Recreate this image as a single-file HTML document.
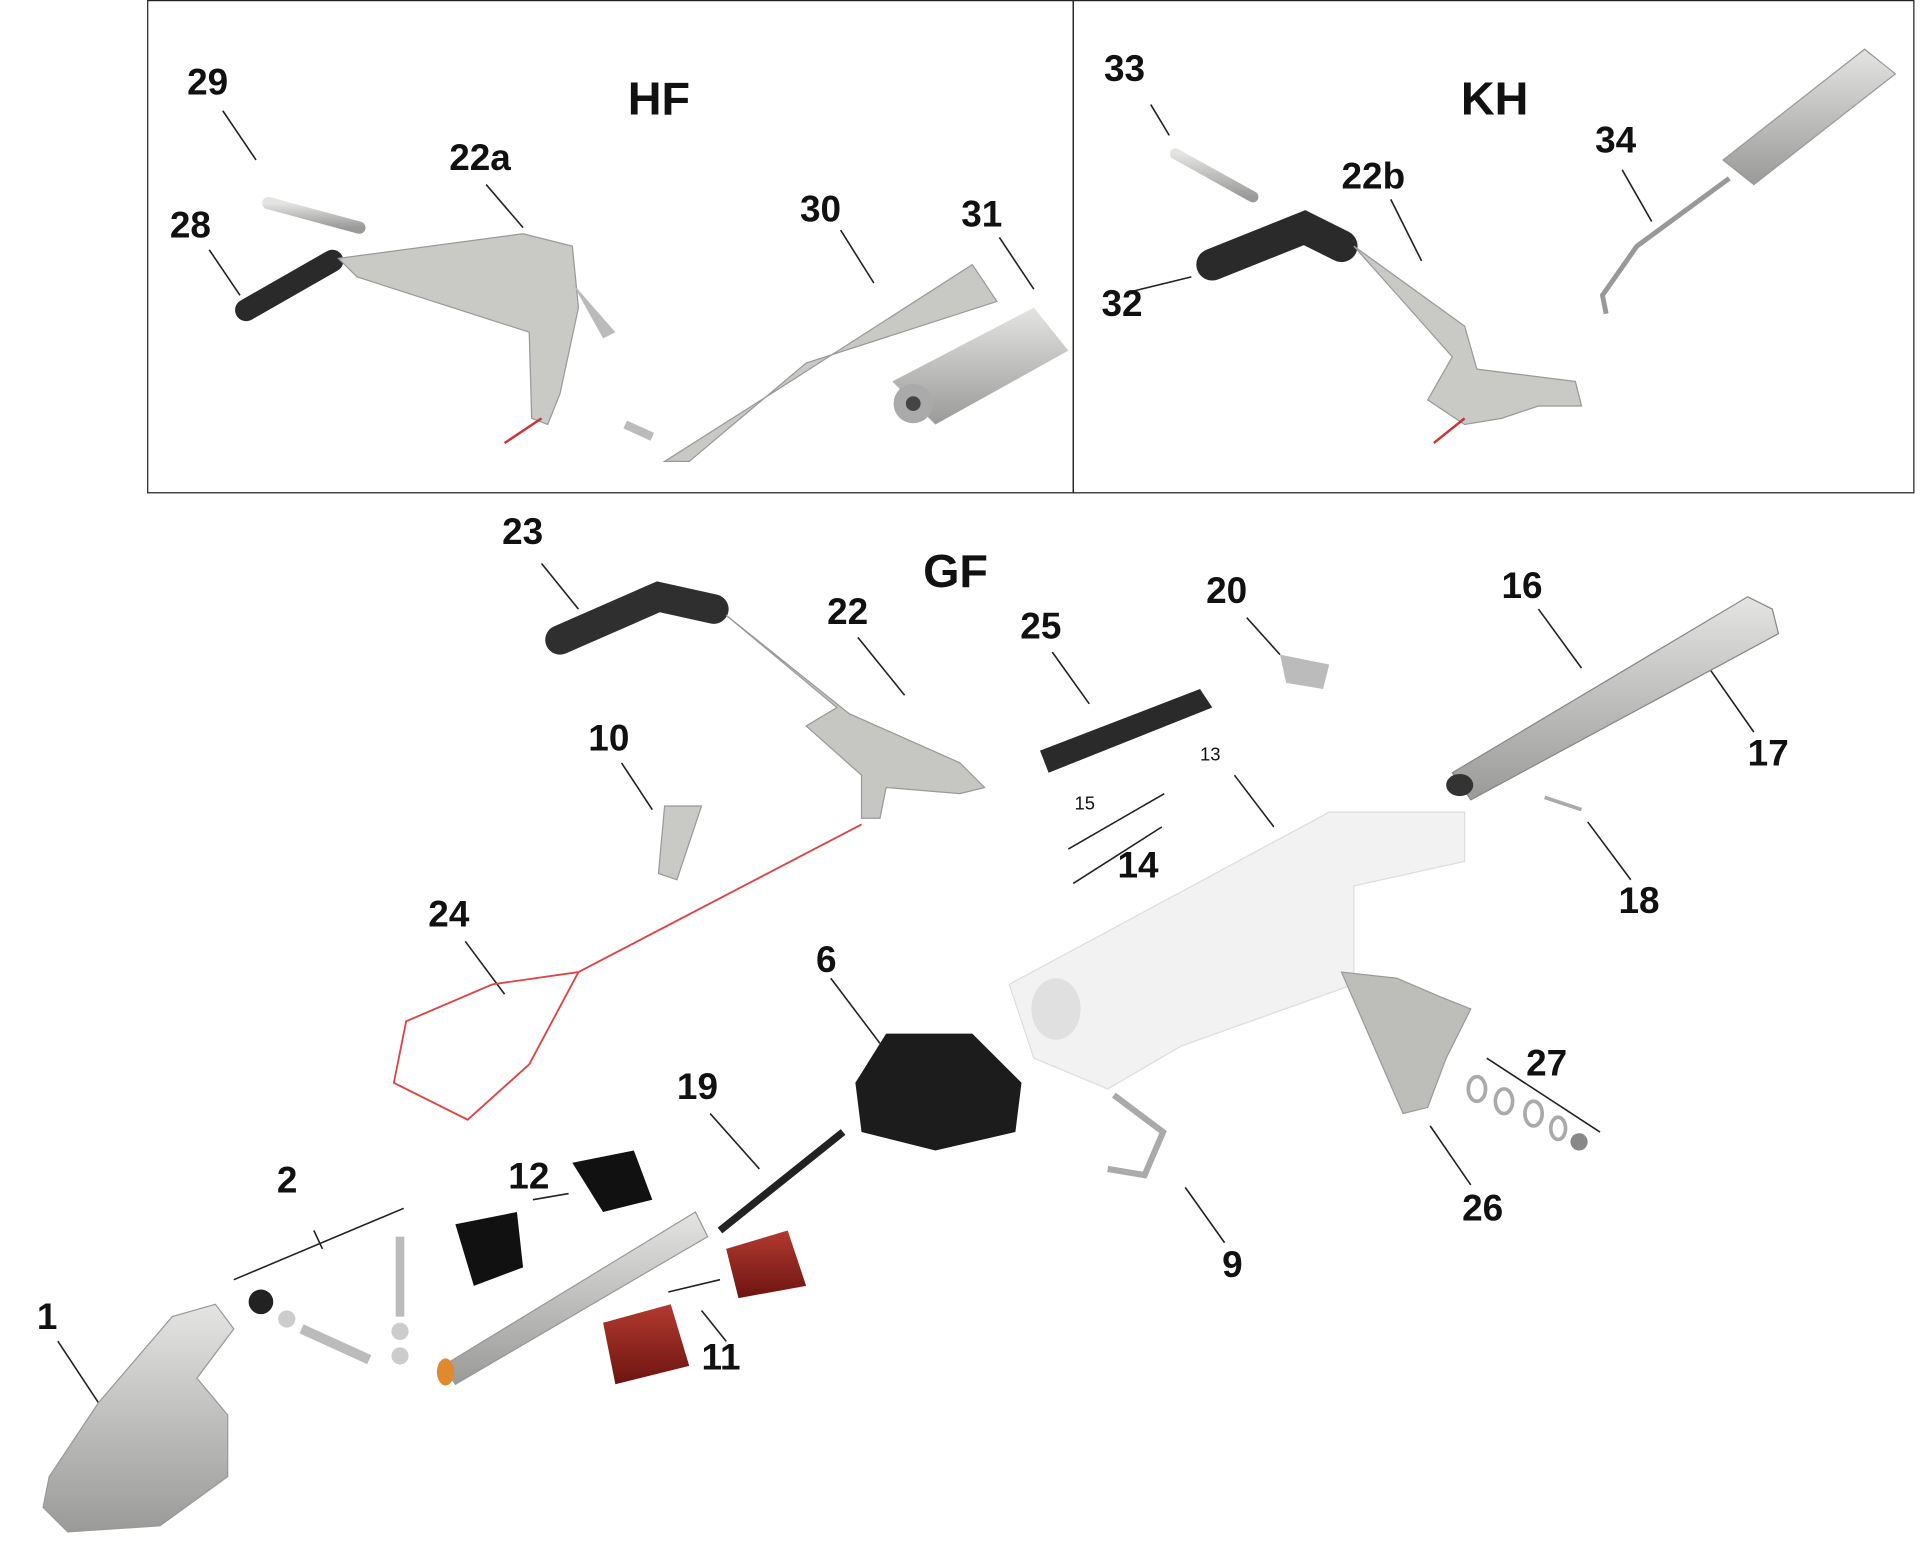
<!DOCTYPE html>
<html><head><meta charset="utf-8"><style>
html,body{margin:0;padding:0;background:#fff}
svg{display:block}
text{font-family:"Liberation Sans",sans-serif;font-weight:bold;fill:#111}
</style></head><body>
<svg width="1920" height="1543" viewBox="0 0 1560 1254" preserveAspectRatio="none">
<defs>
<linearGradient id="m" x1="0" y1="0" x2="0" y2="1"><stop offset="0" stop-color="#e4e4e2"/><stop offset="1" stop-color="#9a9a98"/></linearGradient>
<linearGradient id="r" x1="0" y1="0" x2="0" y2="1"><stop offset="0" stop-color="#b23a30"/><stop offset="1" stop-color="#6d1410"/></linearGradient>
</defs>
<rect x="120" y="0.5" width="752" height="400" fill="none" stroke="#222" stroke-width="1"/>
<rect x="872" y="0.5" width="683" height="400" fill="none" stroke="#222" stroke-width="1"/>
<g stroke="#222" stroke-width="1.3" fill="none">
<path d="M181 90L208 130M170 203L195 240M395 150L425 185M683 187L710 230M812 193L840 235"/>
<path d="M935 85L950 110M915 238L968 225M1130 162L1155 212M1318 138L1342 180"/>
<path d="M440 458L470 495M697 518L735 565M855 530L885 572M505 620L530 658M1013 502L1040 532M1250 495L1285 543M1390 545L1425 595M1003 630L1035 672M1290 668L1325 715M378 765L410 808M675 795L715 848M577 905L617 950M1162 915L1195 963M963 965L995 1010M1208 860L1300 920M190 1040L328 982M255 1000L262 1015M433 975L462 970M543 1050L585 1040M570 1065L590 1090M47 1090L80 1140M868 690L946 645M872 718L944 672"/>
</g>
<g font-size="30">
<text x="152" y="77">29</text><text x="138" y="193">28</text><text x="365" y="138">22a</text>
<text x="650" y="180">30</text><text x="781" y="184">31</text>
<text x="897" y="66">33</text><text x="895" y="257">32</text><text x="1090" y="153">22b</text><text x="1296" y="124">34</text>
<text x="408" y="442">23</text><text x="672" y="507">22</text><text x="829" y="519">25</text><text x="980" y="490">20</text>
<text x="1220" y="486">16</text><text x="1420" y="622">17</text><text x="478" y="610">10</text><text x="908" y="713">14</text>
<text x="1315" y="742">18</text><text x="348" y="753">24</text><text x="663" y="790">6</text><text x="550" y="893">19</text>
<text x="1240" y="874">27</text><text x="413" y="966">12</text><text x="225" y="969">2</text><text x="1188" y="992">26</text>
<text x="993" y="1038">9</text><text x="570" y="1113">11</text><text x="30" y="1080">1</text>
</g>
<g font-size="38"><text x="510" y="93">HF</text><text x="1187" y="93">KH</text><text x="750" y="477">GF</text></g>
<g font-size="15"><text x="873" y="658" style="font-weight:normal">15</text><text x="975" y="618" style="font-weight:normal">13</text></g>
<!-- HF parts -->
<path d="M218 165L292 185" stroke="url(#m)" stroke-width="10" stroke-linecap="round"/>
<path d="M200 252L270 212" stroke="#2a2a2a" stroke-width="18" stroke-linecap="round"/>
<path d="M275 210L425 190L465 200L470 250L455 320L445 345L432 340L430 270L290 225Z" fill="#c9c9c6" stroke="#999"/>
<path d="M465 230L500 270L490 275Z" fill="#bbb"/>
<path d="M410 360L440 340" stroke="#c33" stroke-width="2"/>
<path d="M540 375L650 305L790 215L810 245L655 295L560 375Z" fill="#c8c8c5" stroke="#999"/>
<path d="M508 345L530 355" stroke="#bbb" stroke-width="7"/>
<path d="M725 310L840 250L868 285L760 345Z" fill="url(#m)"/><circle cx="742" cy="328" r="16" fill="#aaa"/><circle cx="742" cy="328" r="6" fill="#444"/>
<!-- KH parts -->
<path d="M955 125L1018 160" stroke="url(#m)" stroke-width="9" stroke-linecap="round"/>
<path d="M985 215L1060 185L1090 200" stroke="#2a2a2a" stroke-width="26" stroke-linecap="round" fill="none"/>
<path d="M1100 200L1190 265L1200 300L1280 310L1285 330L1250 330L1220 340L1190 345L1160 325L1180 290Z" fill="#c9c9c6" stroke="#999"/>
<path d="M1165 360L1190 340" stroke="#c33" stroke-width="2"/>
<path d="M1400 130L1515 40L1540 60L1425 150Z" fill="url(#m)" stroke="#999"/>
<path d="M1405 145L1330 200L1302 240L1305 255" stroke="#999" stroke-width="4" fill="none"/>
<!-- GF parts -->
<path d="M455 520L535 485L580 495" stroke="#2f2f2f" stroke-width="24" stroke-linecap="round" fill="none"/>
<path d="M590 500L690 580L780 620L800 640L780 645L720 640L715 665L700 665L700 630L655 590L680 575Z" fill="#c6c6c3" stroke="#999"/>
<path d="M700 670L470 790L430 865L380 910L320 880L330 830L400 800L470 790" stroke="#d44" stroke-width="1.5" fill="none"/>
<path d="M540 655L570 655L550 715L535 710Z" fill="#c9c9c6" stroke="#999"/>
<path d="M845 610L975 560L985 575L852 628Z" fill="#2a2a2a"/>
<path d="M1040 532L1080 540L1075 560L1045 555Z" fill="#bbb"/>
<path d="M1180 628L1420 485L1440 495L1445 515L1195 650Z" fill="url(#m)" stroke="#888"/><ellipse cx="1186" cy="638" rx="11" ry="9" fill="#333"/>
<path d="M1255 648L1285 658" stroke="#aaa" stroke-width="3"/>
<path d="M820 800L1080 660L1190 660L1190 700L1100 720L1100 800L960 850L900 885L840 860Z" fill="#f2f2f2" stroke="#ddd"/>
<ellipse cx="858" cy="820" rx="20" ry="25" fill="#e0e0e0"/>
<path d="M1090 790L1135 795L1170 810L1195 820L1175 860L1160 900L1140 905Z" fill="#bdbdba" stroke="#999"/>
<path d="M720 840L790 840L830 880L825 920L760 935L700 920L695 880Z" fill="#1c1c1c"/>
<path d="M905 890L945 920L930 955L900 950" fill="none" stroke="#aaa" stroke-width="5"/>
<g fill="none" stroke="#aaa" stroke-width="3"><ellipse cx="1200" cy="885" rx="7" ry="10"/><ellipse cx="1222" cy="895" rx="7" ry="10"/><ellipse cx="1246" cy="905" rx="7" ry="10"/><ellipse cx="1266" cy="917" rx="6" ry="9"/></g><circle cx="1283" cy="928" r="7" fill="#888"/>
<path d="M585 1000L685 920" stroke="#222" stroke-width="6"/>
<path d="M360 1110L565 985L575 1005L370 1125Z" fill="url(#m)" stroke="#999"/><ellipse cx="362" cy="1115" rx="7" ry="11" fill="#e08a30"/>
<path d="M370 995L420 985L425 1030L385 1045Z" fill="#111"/><path d="M465 945L515 935L530 975L490 985Z" fill="#111"/>
<path d="M490 1075L545 1060L560 1110L500 1125Z" fill="url(#r)"/><path d="M590 1015L640 1000L655 1045L600 1055Z" fill="url(#r)"/>
<path d="M245 1080L300 1105" stroke="#bbb" stroke-width="8"/><path d="M325 1005L325 1070" stroke="#bbb" stroke-width="7"/>
<circle cx="212" cy="1058" r="10" fill="#222"/><circle cx="233" cy="1072" r="7" fill="#ccc"/><circle cx="325" cy="1082" r="7" fill="#ccc"/><circle cx="325" cy="1102" r="7" fill="#ccc"/>
<path d="M40 1200L80 1140L140 1070L175 1060L190 1080L160 1120L185 1150L185 1200L130 1240L55 1245L35 1225Z" fill="url(#m)" stroke="#999"/>
</svg>
</body></html>
